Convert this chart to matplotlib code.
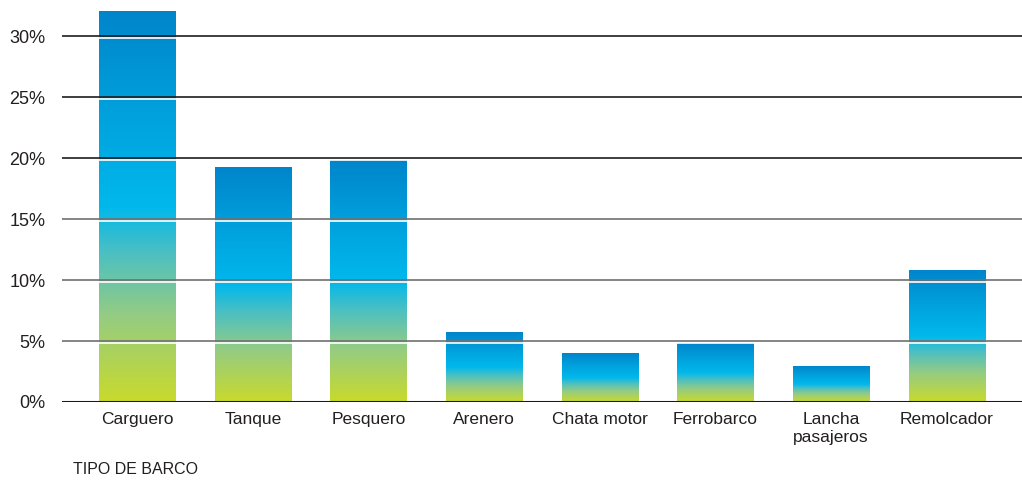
import numpy as np
import matplotlib
matplotlib.use("Agg")
import matplotlib.pyplot as plt
from matplotlib.colors import LinearSegmentedColormap

plt.rcParams['font.family'] = ['Liberation Sans', 'DejaVu Sans']

# datos
categorias = ["Carguero", "Tanque", "Pesquero", "Arenero", "Chata motor",
              "Ferrobarco", "Lancha\npasajeros", "Remolcador"]
porcentajes = [32.0, 19.2, 19.8, 5.7, 4.0, 4.8, 2.9, 10.8]
ticks_y = [0, 5, 10, 15, 20, 25, 30]
etiquetas_y = ["0%", "5%", "10%", "15%", "20%", "25%", "30%"]
titulo_x = "TIPO DE BARCO"

degradado = LinearSegmentedColormap.from_list("barco", [
    (0.0, "#c9da2c"),
    (0.22, "#95cc82"),
    (0.38, "#4cc0c2"),
    (0.5, "#00b8ec"),
    (0.75, "#00a0dc"),
    (1.0, "#0085cb"),
])

fig = plt.figure(figsize=(10.22, 4.83), dpi=100)
ax = fig.add_axes([62/1022, 1 - 402/483, 1 - 62/1022, (402 - 11)/483])

x = np.arange(len(categorias))
barras = ax.bar(x, porcentajes, width=0.66, color="none", edgecolor="none")

grad = np.linspace(0, 1, 256).reshape(-1, 1)
for b in barras:
    x0 = b.get_x()
    w = b.get_width()
    h = b.get_height()
    ax.imshow(grad, cmap=degradado, origin="lower", aspect="auto",
              extent=[x0, x0 + w, 0, h], zorder=1, interpolation="bilinear")

ax.set_xlim(-0.65, len(categorias) - 1 + 0.65)
ax.set_ylim(0, 32.05)

# lineas de grilla encima de las barras, con filete blanco debajo
for t in ticks_y[1:]:
    col = "#1e1e1e" if t >= 20 else "#707070"
    ax.axhline(t - 0.2, color="white", lw=1.2, zorder=2)
    ax.axhline(t, color=col, lw=1.2, zorder=3)
ax.axhline(0, color="#1a1a1a", lw=2.2, zorder=4)

for s in ax.spines.values():
    s.set_visible(False)

ax.set_yticks(ticks_y)
ax.set_yticklabels(etiquetas_y)
ax.set_xticks(x)
ax.set_xticklabels(categorias, linespacing=1.3)
ax.tick_params(axis="y", length=0, pad=12, labelsize=13, labelcolor="#231f20")
ax.tick_params(axis="x", length=0, pad=7, labelsize=12.5, labelcolor="#231f20")

fig.text(73/1022, 1 - 470/483, titulo_x, fontsize=11.5, color="#231f20",
         ha="left", va="center")

fig.savefig("out.png", dpi=100)
